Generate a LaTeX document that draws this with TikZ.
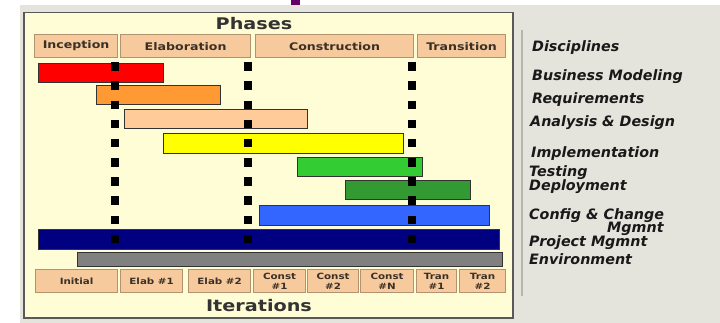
\documentclass[tikz,border=0pt]{standalone}
\usepackage{fontspec}
\usepackage{tikz}
\usepackage{xcolor}
\setmainfont{DejaVu Sans}
\newfontfamily\chartfont[FakeStretch=1.2]{DejaVu Sans}
\definecolor{backcolor}{HTML}{E4E4DC}
\definecolor{panelcolor}{HTML}{FFFDD6}
\definecolor{boxcolor}{HTML}{F6CA9C}
\definecolor{boxedge}{HTML}{B3926F}
\definecolor{labelcolor}{HTML}{3A3028}
\definecolor{bmred}{HTML}{FF0000}
\definecolor{reqorange}{HTML}{FF9933}
\definecolor{anpeach}{HTML}{FFCC99}
\definecolor{impyellow}{HTML}{FFFF00}
\definecolor{testgreen}{HTML}{33CC33}
\definecolor{depgreen}{HTML}{339933}
\definecolor{cfgblue}{HTML}{3366FF}
\definecolor{pmnavy}{HTML}{000080}
\definecolor{envgray}{HTML}{808080}
\colorlet{discline}{backcolor!80!black}
\tikzstyle{panel} =[
    draw=black!65,
    fill=panelcolor,
    line width=1.5pt
    ]
\tikzstyle{title} = [
    anchor=base,
    text=black!80,
    font=\fontsize{16}{19}\selectfont\chartfont\bfseries
    ]
\tikzstyle{phasebox} = [
    draw=boxedge,
    fill=boxcolor,
    line width=1.2pt,
    rectangle,
    anchor=north west,
    inner sep=0pt,
    text=labelcolor,
    font=\fontsize{10.5}{12}\selectfont\chartfont\bfseries
    ]
\tikzstyle{iterbox} = [
    phasebox,
    align=center,
    font=\fontsize{8.6}{9.6}\selectfont\chartfont\bfseries
    ]
\tikzstyle{barbox} = [
    draw=black!80,
    line width=0.8pt,
    rectangle,
    anchor=north west,
    inner sep=0pt
    ]
\tikzstyle{gateline} = [
    line width=8.5pt,
    dash pattern=on 8.5pt off 10.67pt
    ]
\tikzstyle{disc} = [
    anchor=base west,
    inner sep=0pt,
    text=black!90,
    font=\fontsize{14.3}{16}\selectfont\bfseries\itshape
    ]
\begin{document}
\begin{tikzpicture}[x=1pt,y=-1pt]
\useasboundingbox (0,0) rectangle (720,323);
\fill[white] (0,0) rectangle (720,323);
\fill[backcolor] (20,5) rectangle (720,323);
\fill[violet!80!black] (291,0) rectangle (300,5);
\draw[discline, line width=2pt] (522,30) -- (522,296);
\node[panel, minimum width=489pt, minimum height=305pt, anchor=north west] (chart) at (23,12) {};
\node[title] (phases) at (254,30) {Phases};
\node[title] (iters) at (259,311) {Iterations};
% phases
\node[phasebox, minimum width=83pt, minimum height=23pt] (incep) at (34,34) {Inception};
\node[phasebox, minimum width=130pt, minimum height=23pt] (elab) at (120,34) {Elaboration};
\node[phasebox, minimum width=158pt, minimum height=23pt] (constr) at (255,34) {Construction};
\node[phasebox, minimum width=88pt, minimum height=23pt] (trans) at (417,34) {Transition};
% disciplines
\node[barbox, fill=bmred, minimum width=125pt, minimum height=19pt] (busmod) at (38,63) {};
\node[barbox, fill=reqorange, minimum width=124pt, minimum height=19pt] (reqs) at (96,85) {};
\node[barbox, fill=anpeach, minimum width=183pt, minimum height=19pt] (analysis) at (124,109) {};
\node[barbox, fill=impyellow, minimum width=240pt, minimum height=20pt] (implem) at (163,133) {};
\node[barbox, fill=testgreen, minimum width=125pt, minimum height=19pt] (testing) at (297,157) {};
\node[barbox, fill=depgreen, minimum width=125pt, minimum height=19pt] (deploy) at (345,180) {};
\node[barbox, fill=cfgblue, minimum width=230pt, minimum height=20pt] (config) at (259,205) {};
\node[barbox, fill=pmnavy, minimum width=461pt, minimum height=20pt] (projmgmt) at (38,229) {};
\node[barbox, fill=envgray, minimum width=425pt, minimum height=14pt] (environ) at (77,252) {};
% milestones
\draw[gateline] (115,62.25) -- (115,243.25);
\draw[gateline] (248,62.25) -- (248,243.25);
\draw[gateline] (412,62.25) -- (412,243.25);
% iterations
\node[iterbox, minimum width=82pt, minimum height=23pt] (initial) at (35,269) {Initial};
\node[iterbox, minimum width=62pt, minimum height=23pt] (elabone) at (120,269) {Elab \#1};
\node[iterbox, minimum width=62pt, minimum height=23pt] (elabtwo) at (188,269) {Elab \#2};
\node[iterbox, minimum width=52pt, minimum height=23pt] (constone) at (253,269) {Const\\\#1};
\node[iterbox, minimum width=51pt, minimum height=23pt] (consttwo) at (307,269) {Const\\\#2};
\node[iterbox, minimum width=53pt, minimum height=23pt] (constn) at (360,269) {Const\\\#N};
\node[iterbox, minimum width=40pt, minimum height=23pt] (tranone) at (416,269) {Tran\\\#1};
\node[iterbox, minimum width=46pt, minimum height=23pt] (trantwo) at (459,269) {Tran\\\#2};
% labels
\node[disc] (disciplines) at (532,52) {Disciplines};
\node[disc] (lbusmod) at (532,81) {Business Modeling};
\node[disc] (lreqs) at (532,104) {Requirements};
\node[disc] (lanalysis) at (530,127) {Analysis \& Design};
\node[disc] (limplem) at (531,158) {Implementation};
\node[disc] (ltesting) at (529,177) {Testing};
\node[disc] (ldeploy) at (529,191) {Deployment};
\node[disc] (lconfig) at (529,219) {Config \& Change};
\node[disc] (lconfigb) at (607,233) {Mgmnt};
\node[disc] (lprojmgmt) at (529,247) {Project Mgmnt};
\node[disc] (lenviron) at (529,264) {Environment};
\end{tikzpicture}
\end{document}
